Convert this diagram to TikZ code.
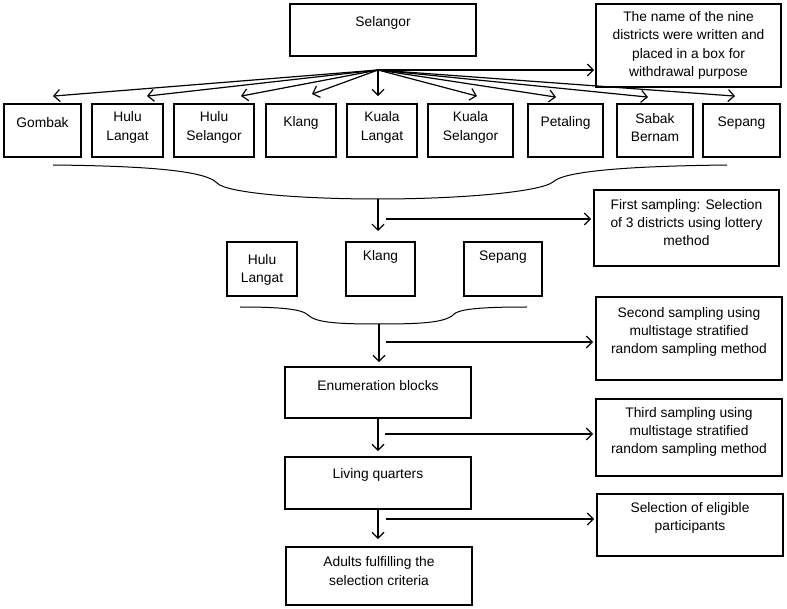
\documentclass[tikz,border=0pt]{standalone}
\usepackage{fontspec}
\setmainfont{Liberation Sans}
\usetikzlibrary{arrows.meta,calc}
\tikzset{
 box/.style={draw, line width=1.8pt, inner sep=0pt},
 txt/.style={align=center, inner sep=0pt, font=\fontsize{13.8}{18.3}\selectfont},
 arr/.style={line width=1.2pt, -{Straight Barb[length=6pt,width=12pt]}},
 brace/.style={line width=1pt},
}
\newcommand\mybox[7]{%
 \node[box, minimum width={#4-#2}, minimum height={#5-#3}] (#1) at ({(#2+#4)/2},{(#3+#5)/2}) {};
 \node[txt] (#1-t) at ({(#2+#4)/2},#6) {#7};}
\begin{document}
\begin{tikzpicture}[x=1pt,y=-1pt]
\useasboundingbox (0,0) rectangle (787,609);
% top
\mybox{selangor}{290}{4}{476}{56}{23}{Selangor}
\mybox{note}{596}{4}{781}{87}{45.5}{The name of the nine\\districts were written and\\placed in a box for\\withdrawal purpose}
% districts
\mybox{gombak}{4}{104}{81}{157}{123}{Gombak}
\mybox{hululangat}{92}{104}{163}{157}{127.5}{Hulu\\Langat}
\mybox{huluselangor}{174}{104}{254}{157}{127.5}{Hulu\\Selangor}
\mybox{klang}{266}{104}{336}{157}{123}{Klang}
\mybox{kualalangat}{347}{104}{417}{157}{127.5}{Kuala\\Langat}
\mybox{kualaselangor}{428}{104}{513}{157}{127.5}{Kuala\\Selangor}
\mybox{petaling}{528}{104}{603}{157}{123}{Petaling}
\mybox{sabakbernam}{617}{104}{693}{157}{127.5}{Sabak\\Bernam}
\mybox{sepang}{703}{104}{780}{157}{123}{Sepang}
% second level
\mybox{first}{594}{190}{779}{266}{222.5}{First sampling: Selection\\of 3 districts using lottery\\method}
\mybox{hl2}{227}{242}{297}{296}{270}{Hulu\\Langat}
\mybox{klang2}{346}{242}{415}{296}{257}{Klang}
\mybox{sepang2}{464}{242}{542}{296}{257}{Sepang}
\mybox{second}{596}{297}{782}{380}{332}{Second sampling using\\multistage stratified\\random sampling method}
\mybox{enum}{285}{367}{471}{418}{386}{Enumeration blocks}
\mybox{third}{596}{399}{782}{476}{432}{Third sampling using\\multistage stratified\\random sampling method}
\mybox{living}{285}{457}{471}{509}{475}{Living quarters}
\mybox{select}{597}{494}{783}{556}{518}{Selection of eligible\\participants}
\mybox{adults}{286}{547}{472}{605}{571}{Adults fulfilling the\\selection criteria}
% fan-out arrows
\coordinate (hub) at (378,70);
\foreach \n/\dx/\dy in {gombak/10.5/7, hululangat/19.5/7, huluselangor/27/7, klang/11/9,
  kualalangat/-4/7, kualaselangor/6.5/7, petaling/-9.5/6, sabakbernam/-7/6, sepang/-6.5/7}
  \draw[arr] (hub) -- ([xshift=\dx pt,yshift=\dy pt]\n.north);
\draw[arr] (hub) -- ([xshift=-1pt]hub -| note.west);
% brace 1
\coordinate (l1) at (53,165);
\coordinate (k1) at (217,183);
\coordinate (m1) at (378,199);
\coordinate (k2) at (553,182);
\coordinate (r1) at (727,165);
\draw[brace] (l1) .. controls (150,166) and (206,171) .. (k1)
  .. controls (226,193) and (300,199) .. (m1)
  .. controls (460,199) and (540,192) .. (k2)
  .. controls (565,170) and (640,166) .. (r1);
\coordinate (d1) at (378,231);
\draw[arr] (m1) -- (d1);
\coordinate (h1) at (386,219);
\draw[arr] (h1) -- ([xshift=-2pt]h1 -| first.west);
% brace 2
\coordinate (l2) at (240,307);
\coordinate (k3) at (308,315);
\coordinate (m2) at (379,324);
\coordinate (k4) at (453,315);
\coordinate (r2) at (527,307);
\draw[brace] (l2) .. controls (280,307) and (302,309) .. (k3)
  .. controls (316,323) and (340,324) .. (m2)
  .. controls (418,324) and (444,323) .. (k4)
  .. controls (458,309) and (480,307) .. (r2);
\draw[arr] (m2) -- ($(m2 |- enum.north)+(0,-4)$);
\coordinate (h2) at (386,342);
\draw[arr] (h2) -- ([xshift=-2pt]h2 -| second.west);
% lower chain
\draw[arr] (enum.south) -- ($(enum.south |- living.north)+(0,-5)$);
\coordinate (h3) at (385,434);
\draw[arr] (h3) -- ([xshift=-2pt]h3 -| third.west);
\draw[arr] (living.south) -- ($(living.south |- adults.north)+(0,-7)$);
\coordinate (h4) at (386,519);
\draw[arr] (h4) -- ([xshift=-2pt]h4 -| select.west);
\end{tikzpicture}
\end{document}
